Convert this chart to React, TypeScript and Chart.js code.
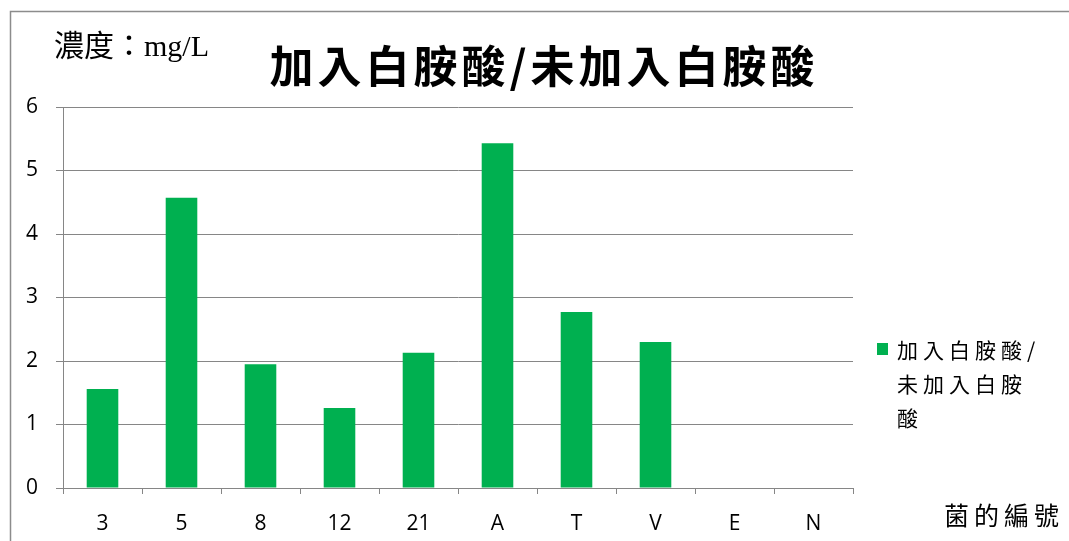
import React, { useEffect, useRef } from "react";
import { Chart, registerables } from "chart.js";
Chart.register(...registerables);

const categories = ["3", "5", "8", "12", "21", "A", "T", "V", "E", "N"];
const ratioValues = [1.56, 4.57, 1.95, 1.26, 2.13, 5.43, 2.77, 2.3, 0, 0];
const yMin = 0;
const yMax = 6;
const yStep = 1;
const chartTitle = "加入白胺酸/未加入白胺酸";
const yAxisTitle = "濃度：mg/L";
const xAxisTitle = "菌的編號";
const seriesLabel = "加入白胺酸/未加入白胺酸";
const legendLines = ["加入白胺酸/", "未加入白胺", "酸"];

const BAR_COLOR = "#00B050";
const GRID_COLOR = "#868686";
const TICK_FONT = "'Open Sans', 'Liberation Sans', sans-serif";
const CJK_SERIF = "'Liberation Serif', 'Noto Sans CJK TC', serif";
const CJK_FONT = "'Noto Sans CJK TC', sans-serif";

const decorPlugin = {
  id: "decor",
  beforeDraw(chart: any) {
    const ctx = chart.ctx;
    ctx.save();
    ctx.strokeStyle = "#8c8c8c";
    ctx.lineWidth = 1.5;
    ctx.strokeRect(10.5, 11.5, 1200, 700);
    ctx.restore();
  },
  afterDraw(chart: any) {
    const ctx = chart.ctx;
    const area = chart.chartArea;
    ctx.save();
    ctx.fillStyle = "#000";
    ctx.textBaseline = "middle";
    // Title
    ctx.font = "bold 44px " + CJK_FONT;
    ctx.textAlign = "center";
    (ctx as any).letterSpacing = "4px";
    ctx.fillText(chartTitle, 544, 66);
    // y axis title
    (ctx as any).letterSpacing = "0px";
    ctx.font = "30px " + CJK_SERIF;
    ctx.textAlign = "left";
    ctx.fillText(yAxisTitle, 54, 48);
    // x axis title
    ctx.font = "25px " + CJK_FONT;
    (ctx as any).letterSpacing = "5px";
    ctx.fillText(xAxisTitle, 944, 515);
    // legend
    const lx = area.right + 24;
    ctx.fillStyle = BAR_COLOR;
    ctx.fillRect(lx, 343, 11, 12);
    ctx.fillStyle = "#000";
    ctx.font = "21px " + CJK_FONT;
    (ctx as any).letterSpacing = "5px";
    legendLines.forEach((line, i) => {
      ctx.fillText(line, lx + 20, 350 + i * 34);
    });
    ctx.restore();
  },
};

export default function App() {
  const ref = useRef<HTMLCanvasElement | null>(null);
  useEffect(() => {
    if (!ref.current) return;
    const chart = new Chart(ref.current, {
      type: "bar",
      data: {
        labels: categories,
        datasets: [
          {
            label: seriesLabel,
            data: ratioValues,
            backgroundColor: BAR_COLOR,
            borderWidth: 0,
            barPercentage: 0.4,
            categoryPercentage: 1,
          },
        ],
      },
      options: {
        responsive: false,
        animation: false,
        layout: { padding: { top: 107, right: 216, left: 0, bottom: 0 } },
        plugins: {
          legend: { display: false },
          title: { display: false },
          tooltip: { enabled: false },
        },
        scales: {
          x: {
            offset: true,
            grid: {
              offset: true,
              drawOnChartArea: false,
              drawTicks: true,
              tickLength: 6,
              color: GRID_COLOR,
            },
            border: { display: true, color: GRID_COLOR },
            ticks: {
              color: "#000",
              font: { family: TICK_FONT, size: 21 },
              padding: 17,
              maxRotation: 0,
            },
            afterFit: (s: any) => {
              s.height = 53;
            },
          },
          y: {
            min: yMin,
            max: yMax,
            ticks: {
              stepSize: yStep,
              color: "#000",
              font: { family: TICK_FONT, size: 21 },
              padding: 18,
            },
            grid: { color: GRID_COLOR, tickLength: 7 },
            border: { display: true, color: GRID_COLOR },
            afterFit: (s: any) => {
              s.width = 63;
            },
          },
        },
      },
      plugins: [decorPlugin],
    });
    return () => chart.destroy();
  }, []);
  return (
    <div style={{ position: "fixed", left: 0, top: 0, width: 1069, height: 541, background: "#fff" }}>
      <canvas ref={ref} width={1069} height={541} style={{ display: "block" }} />
    </div>
  );
}
